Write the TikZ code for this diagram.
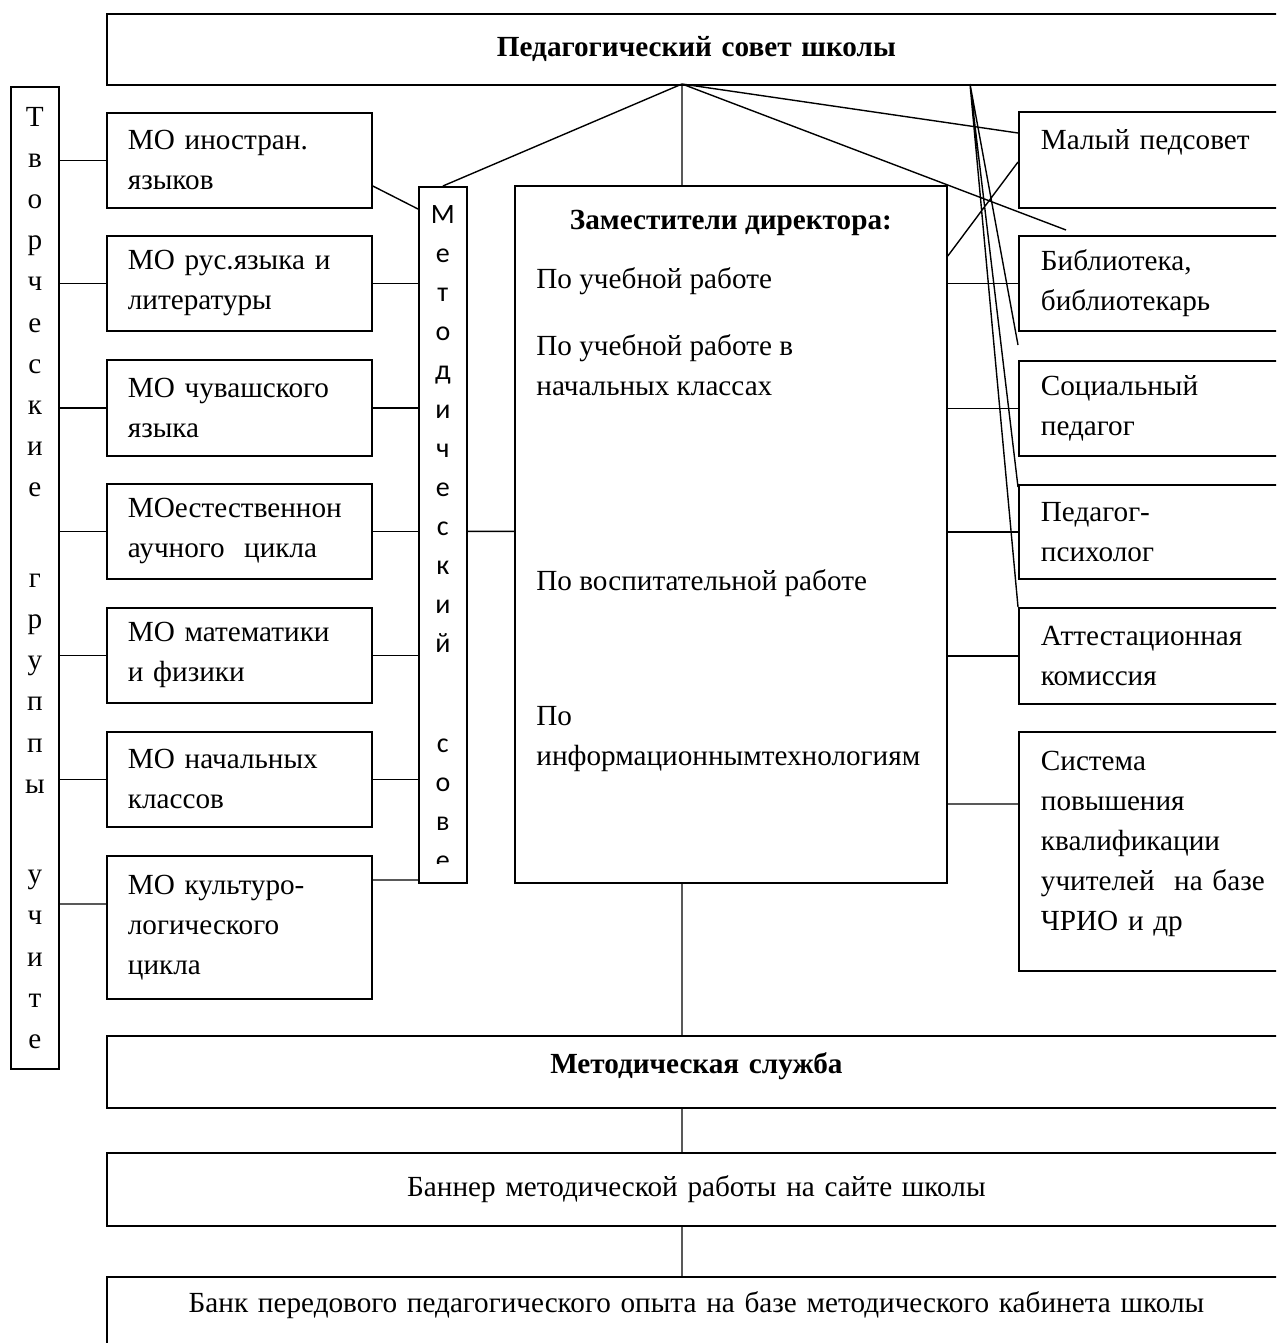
\documentclass[tikz,border=0pt]{standalone}
\usepackage{fontspec}
\setmainfont{Liberation Serif}
\newfontfamily\sovfont{Carlito}
\usetikzlibrary{positioning}

\tikzset{
	box/.style={draw, line width=0.9pt, anchor=north west, inner xsep=10.5pt, inner ysep=0pt, font=\fontsize{14.6}{20}\selectfont},
	mobox/.style={box, text width=111.5pt, minimum height=47.5pt, align=left},
	rbox/.style={box, inner xsep=11pt, text width=128pt, minimum height=47.5pt, align=left},
	wide/.style={box, text width=568.5pt, align=center},
	link/.style={line width=0.7pt},
	ztext/.style={anchor=base west, inner sep=0pt, font=\fontsize{14.6}{20}\selectfont}
}

\begin{document}
\begin{tikzpicture}[x=0.5pt, y=-0.5pt]
		\path[fill=white, use as bounding box] (0,0) rectangle (1276,1343);
		\clip (0,0) rectangle (1276,1343);

		\draw (106,13) node [wide, minimum height=35.5pt] (council) {\bfseries Педагогический совет школы};
		\draw (10,86) node [box, inner xsep=0pt, text width=24pt, minimum height=491pt, align=center,
			font=\fontsize{14.6}{20.6}\selectfont] (tvor)
			{Т\\в\\о\\р\\ч\\е\\с\\к\\и\\е\\[4pt]~\\г\\р\\у\\п\\п\\ы\\[4pt]~\\у\\ч\\и\\т\\е};

		\draw (106,112) node [mobox] (mo1) {МО иностран.\\языков};
		\draw (106,235) node [mobox] (mo2) {МО рус.языка и\\литературы};
		\draw (106,359) node [mobox, minimum height=48pt] (mo3) {МО чувашского\\языка};
		\draw (106,483) node [mobox] (mo4) {МОестественнон\\аучного\ \ цикла};
		\draw (106,607) node [mobox] (mo5) {МО математики\\и физики};
		\draw (106,731) node [mobox] (mo6) {МО начальных\\классов};
		\draw (106,855) node [mobox, minimum height=71.5pt] (mo7) {МО культуро-\\логического\\цикла};

		\draw (418,186) node [box, minimum width=24pt, minimum height=348pt] (metod) {};
		\begin{scope}
			\clip (metod.north west) rectangle ([shift={(0,-20)}]metod.south east);
			\node [anchor=north, inner sep=0pt, align=center, font=\sovfont\fontsize{14}{19.5}\selectfont] (sovtext)
				at ([shift={(0,19)}]metod.north) {М\\е\\т\\о\\д\\и\\ч\\е\\с\\к\\и\\й\\[11pt]~\\с\\о\\в\\е\\т};
		\end{scope}

		\draw (514,185) node [box, minimum width=216pt, minimum height=348.5pt] (zam) {};
		\node [ztext, anchor=base, font=\fontsize{14.6}{20}\selectfont\bfseries] (ztitle)
			at ([shift={(0,44)}]zam.north) {Заместители директора:};
		\foreach \txt/\yy [count=\i] in {По учебной работе/103, По учебной работе в/170, начальных классах/210,
			По воспитательной работе/405, По/540, информационнымтехнологиям/580}
			\node [ztext] (zl\i) at ([shift={(22,\yy)}]zam.north west) {\txt};

		\draw (1018,111) node [rbox, minimum height=48pt] (malyi) {Малый педсовет\\~};
		\draw (1018,235) node [rbox] (bibl) {Библиотека,\\библиотекарь};
		\draw (1018,360) node [rbox] (soc) {Социальный\\педагог};
		\draw (1018,484) node [rbox, minimum height=47pt] (psych) {Педагог-\\психолог};
		\draw (1018,607) node [rbox, minimum height=48pt] (attest) {Аттестационная\\комиссия};
		\draw (1018,731) node [rbox, minimum height=119.5pt] (sist)
			{Система\\повышения\\квалификации\\учителей\ \ на базе\\ЧРИО и др\\[-9pt]~};

		\draw (106,1035) node [wide, minimum height=36pt, text depth=9pt] (msl) {\bfseries Методическая служба};
		\draw (106,1152) node [wide, minimum height=36.5pt] (banner) {Баннер методической работы на сайте школы};
		\draw (106,1276) node [wide, minimum height=45pt] (bank)
			{Банк передового педагогического опыта на базе методического кабинета школы\\~};

		\coordinate (fan) at (682,84);
		\coordinate (fanr) at (970,84);
		\coordinate (libend) at ([shift={(48,-5)}]bibl.north west);
		\coordinate (c7) at ([shift={(0,49)}]mo7.north west);
		\coordinate (cs) at ([shift={(0,73)}]sist.north west);

		\draw[link]
			(fan) -- (metod.north)
			(fan) -- (fan |- zam.north)
			(fan) -- ([shift={(0,22)}]malyi.north west)
			(fan) -- (libend)
			(fanr) -- ([shift={(0,-15)}]soc.north west)
			(fanr) -- ([shift={(0,3)}]psych.north west)
			(fanr) -- (attest.north west)
			([shift={(0,71)}]zam.north east) -- ([shift={(0,51)}]malyi.north west)
			([shift={(0,74)}]mo1.north east) -- ([shift={(0,23)}]metod.north west)
			([shift={(0,25)}]mo7.north east) -- ([shift={(0,25)}]mo7.north east -| metod.west)
			(tvor.east |- c7) -- (c7)
			(metod.east |- mo4.east) -- (zam.west |- mo4.east)
			(zam.east |- cs) -- (cs)
			(fan |- zam.south) -- (fan |- msl.north)
			(fan |- msl.south) -- (fan |- banner.north)
			(fan |- banner.south) -- (fan |- bank.north)
		;
		\foreach \i in {2,...,6}
			\draw[link] (mo\i.east) -- (mo\i.east -| metod.west);
		\foreach \i in {1,...,6}
			\draw[link] (tvor.east |- mo\i.west) -- (mo\i.west);
		\foreach \r in {bibl,soc,psych,attest}
			\draw[link] (zam.east |- \r.west) -- (\r.west);
	\end{tikzpicture}
\end{document}
